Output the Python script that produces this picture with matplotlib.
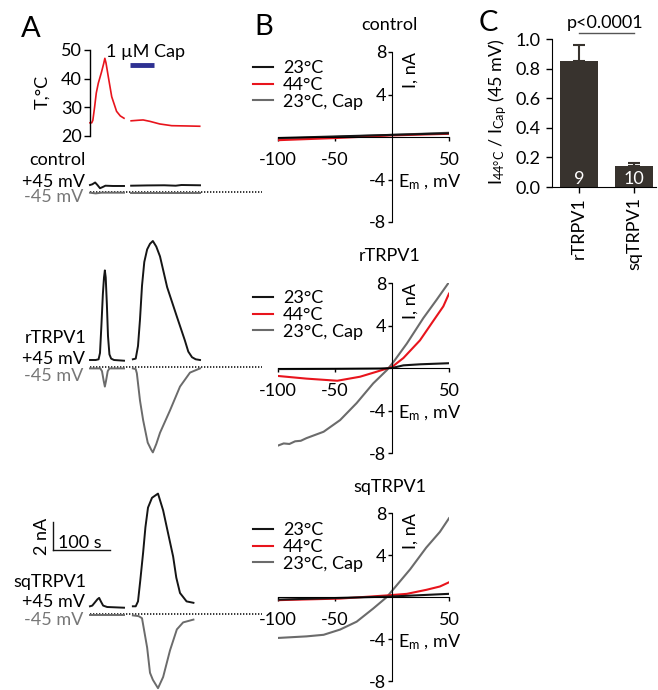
import numpy as np
import matplotlib
matplotlib.use('Agg')
import matplotlib.pyplot as plt

plt.rcParams['font.family'] = ['Lato', 'DejaVu Sans']
plt.rcParams['mathtext.default'] = 'regular'
plt.rcParams['font.size'] = 13
plt.rcParams['axes.unicode_minus'] = False

RED = '#e8141c'
GREY = '#6b6b6b'
BLACK = '#151515'
BLUE = '#2e3192'
BAR = '#38332e'

# ---- panel A data: time (s) / temperature (degC) / current (nA)
temp_t1 = [0, 3, 5, 8, 11, 14.5, 20, 24, 26, 28, 32, 38, 46.5, 53, 59.5]
temp_v1 = [24.6, 24.6, 25.5, 30, 35, 38.4, 42.2, 45.3, 47.1, 45.5, 40.7, 33.7, 28.6, 27.0, 26.2]
temp_t2 = [72, 85, 93, 105, 122, 143, 170, 192]
temp_v2 = [25.3, 25.5, 25.6, 25.1, 24.2, 23.6, 23.5, 23.4]
cap_on = [70, 112]

ctl_pos_t1 = [0, 4, 9, 13, 17.5, 22, 27, 40, 59.5]
ctl_pos_i1 = [0.5, 0.55, 0.68, 0.5, 0.27, 0.35, 0.45, 0.43, 0.43]
ctl_pos_t2 = [72, 100, 130, 150, 160, 192.5]
ctl_pos_i2 = [0.45, 0.47, 0.48, 0.45, 0.5, 0.48]
ctl_neg_t1 = [0, 10, 20, 59.5]
ctl_neg_i1 = [-0.05, -0.1, -0.05, -0.05]
ctl_neg_t2 = [72, 192.5]
ctl_neg_i2 = [-0.05, -0.05]

r_pos_t1 = [0, 10, 15, 17.5, 20, 22.5, 24.5, 26, 27.5, 29.5, 31.5, 34, 37, 42, 59.5]
r_pos_i1 = [0.5, 0.5, 0.55, 1.0, 3.0, 5.2, 6.4, 6.9, 6.4, 4.5, 2.2, 0.9, 0.6, 0.5, 0.45]
r_pos_t2 = [75, 80, 84, 87.5, 91, 95, 100, 105, 110, 116, 122.5, 135, 152, 166, 172, 178.5, 185, 192.5]
r_pos_i2 = [0.55, 0.6, 1.5, 3.4, 5.8, 7.5, 8.4, 8.8, 9.0, 8.6, 7.9, 5.7, 3.6, 1.9, 1.1, 0.7, 0.55, 0.5]
r_neg_t1 = [0, 18, 21, 24, 26, 28, 31, 34, 59.5]
r_neg_i1 = [-0.1, -0.1, -0.3, -1.0, -1.4, -1.0, -0.3, -0.1, -0.1]
r_neg_t2 = [75, 80, 82, 87.5, 93, 101, 107, 110, 116, 122.5, 140, 157.5, 175, 192.5]
r_neg_i2 = [-0.1, -0.15, -0.45, -2.4, -3.8, -5.4, -5.9, -6.1, -5.5, -4.7, -3.1, -1.4, -0.4, -0.1]

sq_pos_t1 = [0, 4, 9, 13, 16, 19, 23, 30, 59.5]
sq_pos_i1 = [0.55, 0.6, 0.85, 1.05, 1.15, 0.9, 0.6, 0.5, 0.45]
sq_pos_t2 = [75, 80, 84, 88, 93, 97, 101.5, 108.5, 119, 128, 137, 145.5, 151, 157.5, 169, 181]
sq_pos_i2 = [0.55, 0.55, 0.9, 2.4, 4.4, 6.2, 7.6, 8.3, 8.6, 7.4, 5.7, 4.1, 2.6, 1.5, 0.9, 0.8]
sq_neg_t1 = [0, 59.5]
sq_neg_i1 = [-0.1, -0.1]
sq_neg_t2 = [75, 85, 91, 100, 105, 110, 119, 128, 140, 152, 163, 181]
sq_neg_i2 = [-0.1, -0.15, -0.3, -2.4, -4.2, -4.7, -5.3, -4.5, -2.6, -1.1, -0.6, -0.4]

# ---- panel B data: voltage (mV) / current (nA)
ctl23_v = [-100, -50, 0, 50]
ctl23_i = [-0.1, 0.05, 0.2, 0.35]
ctl44_v = [-100, -50, 0, 50]
ctl44_i = [-0.3, -0.1, 0.15, 0.3]
ctlcap_v = [-100, -50, 0, 50]
ctlcap_i = [-0.15, 0.0, 0.2, 0.4]

r23_v = [-100, -50, -10, 0, 10, 25, 50]
r23_i = [-0.1, -0.08, -0.05, 0.0, 0.25, 0.35, 0.45]
r44_v = [-100, -75, -48, -28, -13.5, 0, 10, 24.5, 36, 45, 50]
r44_i = [-0.75, -1.0, -1.2, -0.82, -0.35, 0.1, 0.94, 2.6, 4.4, 5.8, 7.0]
rcap_v = [-100, -95, -90, -85, -80, -75, -60, -45.5, -31, -16.5, -4.5, 1.5, 13, 27.5, 39, 49.5]
rcap_i = [-7.3, -7.1, -7.15, -6.9, -6.85, -6.6, -6.0, -4.9, -3.3, -1.45, -0.2, 0.6, 2.3, 4.7, 6.4, 8.0]

sq23_v = [-100, -50, 0, 50]
sq23_i = [-0.25, -0.1, 0.05, 0.3]
sq44_v = [-100, -45.5, -4.5, 13, 30, 42, 50]
sq44_i = [-0.3, -0.15, 0.15, 0.3, 0.68, 1.0, 1.4]
sqcap_v = [-100, -75, -60, -45.5, -31, -16.5, -4.5, 4, 16, 30, 42, 50]
sqcap_i = [-3.9, -3.75, -3.6, -3.1, -2.35, -1.1, 0.0, 1.1, 2.65, 4.7, 6.2, 7.5]

# ---- panel C data
bar_names = ['rTRPV1', 'sqTRPV1']
bar_vals = [0.85, 0.14]
bar_err = [0.11, 0.02]
bar_n = ['9', '10']

W, H = 658, 690
fig = plt.figure(figsize=(W / 100, H / 100), dpi=100)


def add_ax(x0, y0, x1, y1):
    ax = fig.add_axes([x0 / W, 1 - y1 / H, (x1 - x0) / W, (y1 - y0) / H])
    ax.patch.set_visible(False)
    return ax


def ftext(x, y, s, **kw):
    fig.text(x / W, 1 - y / H, s, **kw)


S_PER_PX = 1.75
PX_PER_NA = 14.0
T_LIM = (-90 * S_PER_PX, 172 * S_PER_PX)

# temperature
ax_t = add_ax(0, 50, 262, 136)
ax_t.set_xlim(*T_LIM)
ax_t.set_ylim(20, 50)
ax_t.plot(temp_t1, temp_v1, color=RED, lw=1.2)
ax_t.plot(temp_t2, temp_v2, color=RED, lw=1.2)
ax_t.plot(cap_on, [44.7, 44.7], color=BLUE, lw=3.5, solid_capstyle='butt')
for s in ['top', 'right', 'bottom']:
    ax_t.spines[s].set_visible(False)
ax_t.spines['left'].set_position(('data', 0))
ax_t.spines['left'].set_linewidth(1)
ax_t.set_xticks([])
ax_t.set_yticks([20, 30, 40, 50])
ax_t.tick_params(axis='y', direction='out', length=4, width=1, pad=2, labelsize=13)
ftext(145, 52, '1 µM Cap', ha='center', va='center')
ftext(42, 92, 'T,°C', ha='center', va='center', rotation=90)


def trace_row(zero_px, top_px, bot_px, pos, neg):
    ax = add_ax(0, top_px, 262, bot_px)
    ax.set_xlim(*T_LIM)
    ax.set_ylim((zero_px - bot_px) / PX_PER_NA, (zero_px - top_px) / PX_PER_NA)
    ax.axis('off')
    ax.plot([0, T_LIM[1]], [0, 0], color=BLACK, lw=1.2, ls=(0, (0.8, 1.0)))
    for t, i in neg:
        ax.plot(t, i, color=GREY, lw=1.4)
    for t, i in pos:
        ax.plot(t, i, color=BLACK, lw=1.4)
    return ax


trace_row(192, 150, 205,
          [(ctl_pos_t1, ctl_pos_i1), (ctl_pos_t2, ctl_pos_i2)],
          [(ctl_neg_t1, ctl_neg_i1), (ctl_neg_t2, ctl_neg_i2)])
trace_row(367, 230, 465,
          [(r_pos_t1, r_pos_i1), (r_pos_t2, r_pos_i2)],
          [(r_neg_t1, r_neg_i1), (r_neg_t2, r_neg_i2)])
ax_sq = trace_row(614, 480, 690,
                  [(sq_pos_t1, sq_pos_i1), (sq_pos_t2, sq_pos_i2)],
                  [(sq_neg_t1, sq_neg_i1), (sq_neg_t2, sq_neg_i2)])

# scale bar 2 nA / 100 s
sb_t = -65
sb_i = (614 - 550) / PX_PER_NA
ax_sq.plot([sb_t, sb_t], [sb_i, sb_i + 2], color=BLACK, lw=1, clip_on=False)
ax_sq.plot([sb_t, sb_t + 100], [sb_i, sb_i], color=BLACK, lw=1, clip_on=False)
ftext(80, 543, '100 s', ha='center', va='center')
ftext(42, 536, '2 nA', ha='center', va='center', rotation=90)

for name, yn, yp, ym in [('control', 160, 182, 197), ('rTRPV1', 338, 359, 376),
                         ('sqTRPV1', 582, 602, 620)]:
    ftext(86, yn, name, ha='right', va='center')
    ftext(85, yp, '+45 mV', ha='right', va='center')
    ftext(83, ym, '-45 mV', ha='right', va='center', color='#777777')


# ---- panel B
def iv_ax(top_px, bot_px, title, curves, leg_top):
    ax = add_ax(278, top_px, 449, bot_px)
    ax.set_xlim(-100, 50)
    ax.set_ylim(-8, 8)
    v23, i23, v44, i44, vc, ic = curves
    lc, = ax.plot(vc, ic, color=GREY, lw=1.5)
    l44, = ax.plot(v44, i44, color=RED, lw=1.5)
    l23, = ax.plot(v23, i23, color=BLACK, lw=1.5)
    for s in ['top', 'right']:
        ax.spines[s].set_visible(False)
    ax.spines['left'].set_position(('data', 0))
    ax.spines['bottom'].set_position(('data', 0))
    ax.set_xticks([-100, -50, 50])
    ax.set_yticks([-8, -4, 4, 8])
    ax.tick_params(axis='x', direction='out', length=3, width=1, pad=8, labelsize=13)
    ax.tick_params(axis='y', direction='out', length=3, width=1, pad=1, labelsize=13)
    ax.text(16, 6.3, 'I, nA', rotation=90, ha='center', va='center')
    ax.text(5, -4.3, 'E$_m$ , mV', ha='left', va='center', clip_on=False)
    ax.text(-2, 10.5, title, ha='center', va='center')
    fig.legend([l23, l44, lc], ['23°C', '44°C', '23°C, Cap'], loc='upper left',
               bbox_to_anchor=(253 / W, 1 - leg_top / H), frameon=False,
               handlelength=1.1, handletextpad=0.55, labelspacing=0.05,
               borderpad=0, borderaxespad=0, fontsize=13)


iv_ax(52, 222, 'control', (ctl23_v, ctl23_i, ctl44_v, ctl44_i, ctlcap_v, ctlcap_i), 60)
iv_ax(283, 453, 'rTRPV1', (r23_v, r23_i, r44_v, r44_i, rcap_v, rcap_i), 290)
iv_ax(513, 681, 'sqTRPV1', (sq23_v, sq23_i, sq44_v, sq44_i, sqcap_v, sqcap_i), 522)

# ---- panel C
ax_c = add_ax(552, 39, 656, 187)
x = np.arange(len(bar_names))
ax_c.bar(x, bar_vals, width=0.69, color=BAR,
         yerr=[np.zeros(len(bar_err)), bar_err],
         error_kw=dict(ecolor=BAR, elinewidth=1.5, capsize=4, capthick=1.5))
for xi, n in zip(x, bar_n):
    ax_c.text(xi, 0.055, n, color='white', ha='center', va='center', fontsize=13)
ax_c.set_xlim(-0.49, 1.4)
ax_c.set_ylim(0, 1.0)
for s in ['top', 'right']:
    ax_c.spines[s].set_visible(False)
ax_c.set_yticks([0, 0.2, 0.4, 0.6, 0.8, 1.0])
ax_c.set_yticklabels(['0.0', '0.2', '0.4', '0.6', '0.8', '1.0'])
ax_c.set_xticks(x)
ax_c.set_xticklabels(bar_names, rotation=90, va='top', ha='center')
ax_c.tick_params(axis='both', direction='out', length=4, width=1, labelsize=13)
ax_c.tick_params(axis='y', pad=4)
ax_c.plot([0, 1], [1.04, 1.04], color='#555555', lw=1, clip_on=False)
ftext(605, 23, 'p<0.0001', ha='center', va='center')
ftext(498, 112, 'I$_{44°C}$ / I$_{Cap}$ (45 mV)', ha='center', va='center', rotation=90)

# panel letters
ftext(31, 29, 'A', ha='center', va='center', fontsize=21)
ftext(264, 27, 'B', ha='center', va='center', fontsize=21)
ftext(488, 23, 'C', ha='center', va='center', fontsize=21)

fig.savefig('out.png', dpi=100)
